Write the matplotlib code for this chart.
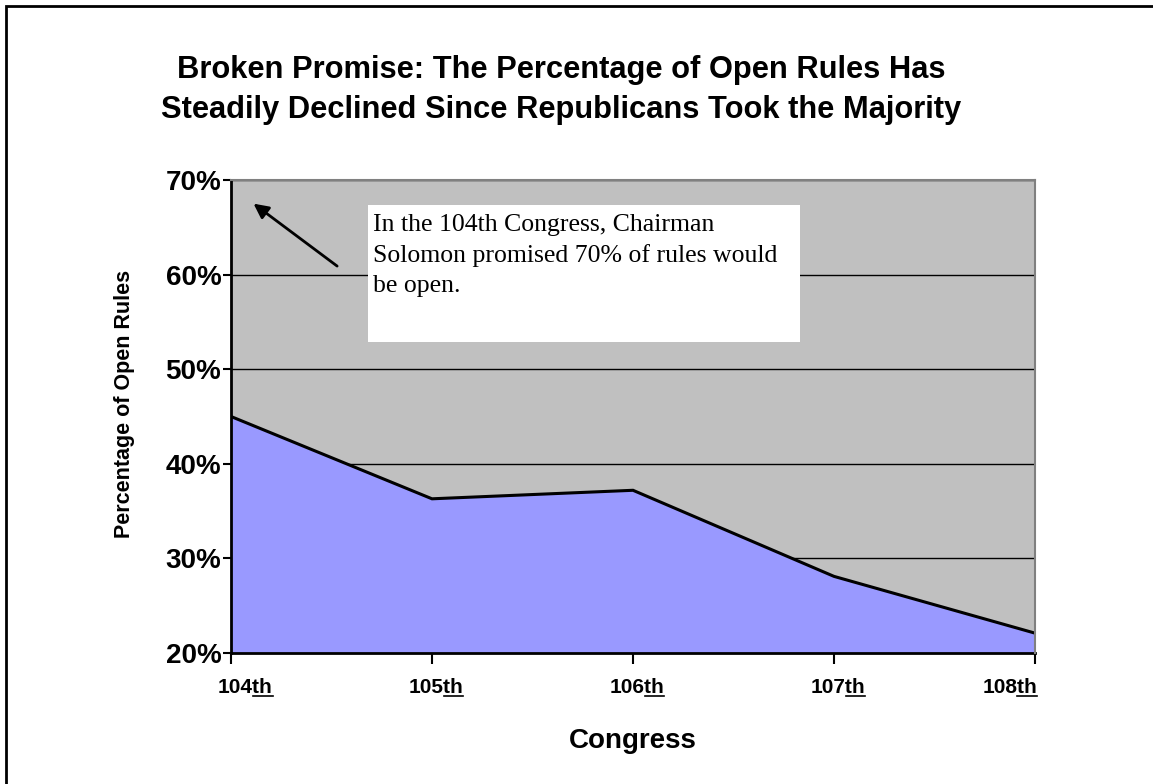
import matplotlib
matplotlib.use("Agg")
import matplotlib.pyplot as plt
from matplotlib.patches import Rectangle
from matplotlib.lines import Line2D
from matplotlib.transforms import ScaledTranslation

congress = ["104th", "105th", "106th", "107th", "108th"]
open_rule_pct = [45.0, 36.3, 37.2, 28.1, 22.1]
y_ticks = [20, 30, 40, 50, 60, 70]
y_tick_labels = ["20%", "30%", "40%", "50%", "60%", "70%"]

title = ("Broken Promise: The Percentage of Open Rules Has\n"
         "Steadily Declined Since Republicans Took the Majority")
note = ("In the 104th Congress, Chairman\n"
        "Solomon promised 70% of rules would\n"
        "be open.")

W, H = 1153, 784
fig = plt.figure(figsize=(W / 100, H / 100), dpi=100)
fig.patch.set_facecolor("white")

ax = fig.add_axes([231 / W, 1 - 653 / H, (1035 - 231) / W, (653 - 180) / H])
ax.set_facecolor("#C0C0C0")

x = list(range(len(congress)))
ax.fill_between(x, 0, open_rule_pct, color="#9999FF", zorder=2, linewidth=0)
ax.plot(x, open_rule_pct, color="black", linewidth=2.2, zorder=3,
        solid_joinstyle="miter")

ax.set_xlim(0, len(congress) - 1)
ax.set_ylim(20, 70)
ax.set_yticks(y_ticks)
ax.set_yticklabels(y_tick_labels, fontsize=20, fontweight="bold",
                   family="Liberation Sans")
ax.set_xticks(x)
ax.set_xticklabels(congress, fontsize=15, fontweight="bold",
                   family="Liberation Sans")
ax.tick_params(axis="y", direction="out", length=6, width=1.5, pad=1)
ax.tick_params(axis="x", direction="out", length=8, width=1.5, pad=10)

# nudge the congress labels: end labels stay inside the plot width
xlabels = ax.get_xticklabels()
for i, lab in enumerate(xlabels):
    if i == 0:
        lab.set_ha("left")
        dx = -13
    elif i == len(xlabels) - 1:
        lab.set_ha("right")
        dx = 2
    else:
        dx = 4
    lab.set_transform(lab.get_transform() +
                      ScaledTranslation(dx / 100, 0, fig.dpi_scale_trans))

ax.set_axisbelow(True)
ax.yaxis.grid(True, color="black", linewidth=1)
ax.xaxis.grid(False)

for side in ("left", "bottom"):
    ax.spines[side].set_color("black")
    ax.spines[side].set_linewidth(2)
for side in ("top", "right"):
    ax.spines[side].set_color("#808080")
    ax.spines[side].set_linewidth(1.5)
    ax.spines[side].set_zorder(4)

ax.set_xlabel("Congress", fontsize=20, fontweight="bold",
              family="Liberation Sans", labelpad=22)
ax.set_ylabel("Percentage of Open Rules", fontsize=15.5, fontweight="bold",
              family="Liberation Sans")
ax.yaxis.set_label_coords(-0.119, 0.526)

fig.text(0.487, 1 - 90 / H, title, ha="center", va="center", fontsize=22.2,
         fontweight="bold", family="Liberation Sans", linespacing=1.42)

# note box with arrow pointing to the 70% line
ax.add_patch(Rectangle((0.170, 0.657), 0.538, 0.290, transform=ax.transAxes,
                       facecolor="white", edgecolor="none", zorder=5))
ax.text(0.176, 0.928, note, transform=ax.transAxes, ha="left", va="top",
        fontsize=18.5, family="Liberation Serif", linespacing=1.45, zorder=6)
ax.annotate("", xy=(0.028, 0.950), xytext=(0.132, 0.818),
            xycoords="axes fraction", textcoords="axes fraction",
            arrowprops=dict(arrowstyle="-|>", color="black", lw=2,
                            mutation_scale=22, shrinkA=0, shrinkB=0),
            zorder=6)

# outer border, open on the right and bottom edges
fig.add_artist(Rectangle((6 / W, -0.05), 1.2, 1.05 - 5.5 / H,
                         transform=fig.transFigure, fill=False,
                         edgecolor="black", linewidth=2))

# underline the ordinal suffix on each congress label
fig.canvas.draw()
renderer = fig.canvas.get_renderer()
for lab in ax.get_xticklabels():
    s = lab.get_text()
    bb = lab.get_window_extent(renderer)
    prop = lab.get_fontproperties()
    w_num, _, _ = renderer.get_text_width_height_descent(s[:-2], prop, ismath=False)
    w_all, _, _ = renderer.get_text_width_height_descent(s, prop, ismath=False)
    y = bb.y0 + 1.5
    fig.add_artist(Line2D([(bb.x0 + w_num) / W, (bb.x0 + w_all) / W],
                          [y / H, y / H], transform=fig.transFigure,
                          color="black", linewidth=1.2))

fig.savefig("out.png", dpi=100)
